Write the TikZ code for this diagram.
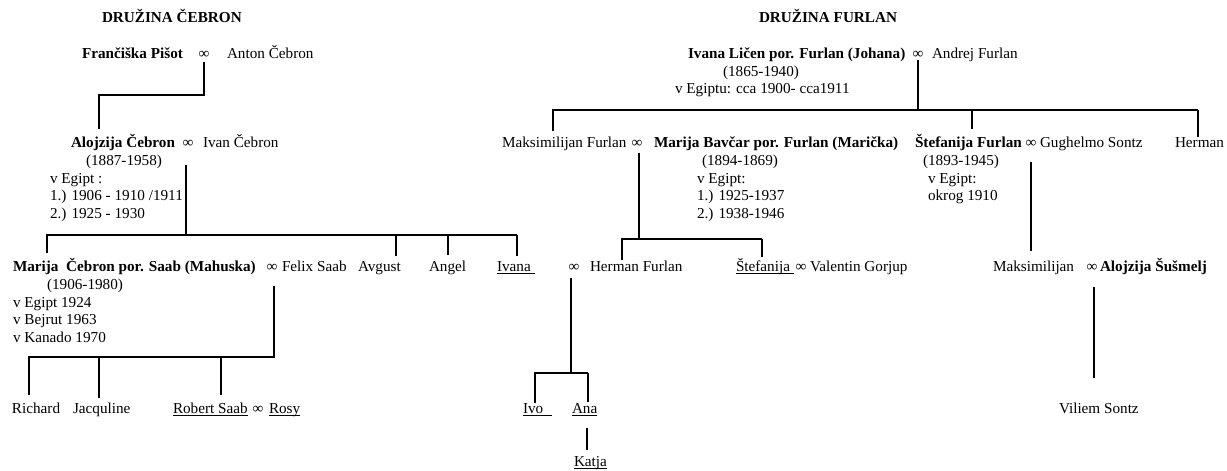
\documentclass[tikz,border=0pt]{standalone}
\usepackage{fontspec}
\setmainfont{Liberation Serif}
\usetikzlibrary{calc}
\newcommand{\ulx}[2][0pt]{\setbox0=\hbox{#2}\makebox[0pt][l]{\rule[-2.6pt]{\dimexpr\wd0+#1\relax}{0.9pt}}\box0}
\tikzset{
  txt/.style={anchor=base west, inner sep=0pt, outer sep=0pt, font=\fontsize{15.2}{17.5}\selectfont},
  txtb/.style={txt, font=\fontsize{15.2}{17.5}\selectfont\bfseries},
  infsym/.style={anchor=base, inner sep=0pt, outer sep=0pt, font=\fontsize{15.2}{17.5}\selectfont},
  conn/.style={line width=1.4pt},
}
\begin{document}
\begin{tikzpicture}[x=1pt,y=-1pt]
\useasboundingbox (0,0) rectangle (1227,471);

% ---------- headings ----------
\node[txtb] (h1) at (102,22) {DRUŽINA ČEBRON};
\node[txtb] (h2) at (759,22) {DRUŽINA FURLAN};

% ---------- generation 1 ----------
\node[txtb] (fp) at (82,58) {Frančiška Pišot};
\node[infsym] (i1) at (204,58) {∞};
\node[txt] (ac) at (227,58) {Anton Čebron};

\node[txtb] (il) at (688,58) {Ivana Ličen por. Furlan (Johana)};
\node[infsym] (i2) at (918,58) {∞};
\node[txt] (af) at (932,58) {Andrej Furlan};
\node[txt] (il2) at (723,76) {(1865-1940)};
\node[txt] (il3) at (675,93) {v Egiptu: cca 1900- cca1911};

% ---------- generation 2 ----------
\node[txtb] (al) at (71,147) {Alojzija Čebron};
\node[infsym] (i3) at (188,147) {∞};
\node[txt] (ic) at (203,147) {Ivan Čebron};
\node[txt] (al2) at (86,165) {(1887-1958)};
\node[txt] (al3) at (50,183) {v Egipt :};
\node[txt] (al4) at (50,200) {1.) 1906 - 1910 /1911};
\node[txt] (al5) at (50,218) {2.) 1925 - 1930};

\node[txt] (mf) at (502,147) {Maksimilijan Furlan};
\node[infsym] (i4) at (637,147) {∞};
\node[txtb] (mb) at (654,147) {Marija Bavčar por. Furlan (Marička)};
\node[txt] (mb2) at (702,165) {(1894-1869)};
\node[txt] (mb3) at (697,183) {v Egipt:};
\node[txt] (mb4) at (697,200) {1.) 1925-1937};
\node[txt] (mb5) at (697,218) {2.) 1938-1946};

\node[txtb] (sf) at (915,147) {Štefanija Furlan};
\node[infsym] (i5) at (1031,147) {∞};
\node[txt] (gs) at (1040,147) {Gughelmo Sontz};
\node[txt] (he) at (1175,147) {Herman};
\node[txt] (sf2) at (923,165) {(1893-1945)};
\node[txt] (sf3) at (928,183) {v Egipt:};
\node[txt] (sf4) at (928,200) {okrog 1910};

% ---------- generation 3 ----------
\node[txtb] (mc) at (13,271) {Marija\ \ Čebron por. Saab (Mahuska)};
\node[infsym] (i6) at (272,271) {∞};
\node[txt] (fs) at (282,271) {Felix Saab};
\node[txt] (av) at (358,271) {Avgust};
\node[txt] (an) at (429,271) {Angel};
\node[txt] (iv) at (497,271) {\ulx[4pt]{Ivana}};
\node[infsym] (i7) at (574,271) {∞};
\node[txt] (hf) at (590,271) {Herman Furlan};
\node[txt] (st) at (736,271) {\ulx[4pt]{Štefanija}};
\node[infsym] (i8) at (801,271) {∞};
\node[txt] (vg) at (810,271) {Valentin Gorjup};
\node[txt] (mx) at (993,271) {Maksimilijan};
\node[infsym] (i9) at (1092,271) {∞};
\node[txtb] (as) at (1100,271) {Alojzija Šušmelj};

\node[txt] (mc2) at (47,289) {(1906-1980)};
\node[txt] (mc3) at (13,307) {v Egipt 1924};
\node[txt] (mc4) at (13,324.5) {v Bejrut 1963};
\node[txt] (mc5) at (13,342) {v Kanado 1970};

% ---------- generation 4 ----------
\node[txt] (ri) at (12,413) {Richard};
\node[txt] (jq) at (73,413) {Jacquline};
\node[txt] (rs) at (173,413) {\ulx{Robert Saab}};
\node[infsym] (i10) at (258,413) {∞};
\node[txt] (ro) at (269,413) {\ulx{Rosy}};
\node[txt] (ivo) at (523,413) {\ulx[9pt]{Ivo}};
\node[txt] (ana) at (572,413) {\ulx{Ana}};
\node[txt] (vs) at (1059,413) {Viliem Sontz};
\node[txt] (ka) at (574,466) {\ulx{Katja}};

% ---------- connectors: Čebron ----------
\coordinate (k1t) at (204,62);
\coordinate (k1j) at (99,95);
\draw[conn, shorten >=4.5pt] (k1t) |- (k1j) -- (k1j |- al.north);

\coordinate (k2t) at (186,165);
\coordinate (k2L) at (47,235);
\coordinate (k2R) at (517,235);
\coordinate (k2a) at (396,235);
\coordinate (k2b) at (448,235);
\draw[conn] (k2t) -- (k2t |- k2L);
\draw[conn, shorten >=4.5pt] (k2R) -- (k2L) -- (k2L |- mc.north);
\draw[conn, shorten >=4.5pt] (k2a) -- (k2a |- av.north);
\draw[conn, shorten >=5.5pt] (k2b) -- (k2b |- an.north);
\draw[conn, shorten >=5.5pt] (k2R) -- (k2R |- iv.north);

\coordinate (k3t) at (274,286);
\coordinate (k3L) at (29,357);
\coordinate (k3a) at (99,357);
\coordinate (k3b) at (221,357);
\draw[conn, shorten >=7pt] (k3t) |- (k3L) -- (k3L |- ri.north);
\draw[conn, shorten >=4.5pt] (k3a) -- (k3a |- jq.north);
\draw[conn, shorten >=7pt] (k3b) -- (k3b |- rs.north);

% ---------- connectors: Furlan ----------
\coordinate (k5t) at (918,60);
\coordinate (k5L) at (553,110);
\coordinate (k5R) at (1198,110);
\coordinate (k5a) at (972,110);
\draw[conn] (k5t) -- (k5t |- k5L);
\draw[conn, shorten >=5.5pt] (k5R) -- (k5L) -- (k5L |- mf.north);
\draw[conn, shorten >=4.5pt] (k5a) -- (k5a |- sf.north);
\draw[conn, shorten >=0.5pt] (k5R) -- (k5R |- he.north);

\coordinate (k6t) at (639,153);
\coordinate (k6L) at (622,239);
\coordinate (k6R) at (762,239);
\draw[conn] (k6t) -- (k6t |- k6L);
\draw[conn, shorten >=0.5pt] (k6R) -- (k6L) -- (k6L |- hf.north);
\draw[conn, shorten >=0.5pt] (k6R) -- (k6R |- st.north);

\coordinate (k7t) at (1031,162);
\draw[conn, shorten >=9.5pt] (k7t) -- (k7t |- mx.north);

\coordinate (k8t) at (1094,287);
\draw[conn, shorten >=24.5pt] (k8t) -- (k8t |- vs.north);

\coordinate (k4t) at (571,278);
\coordinate (k4L) at (535,373);
\coordinate (k4R) at (588,373);
\draw[conn] (k4t) -- (k4t |- k4L);
\draw[conn, shorten >=0.5pt] (k4R) -- (k4L) -- (k4L |- ivo.north);
\draw[conn, shorten >=0.5pt] (k4R) -- (k4R |- ana.north);

\coordinate (k9t) at (587,428);
\draw[conn, shorten >=5.5pt] (k9t) -- (k9t |- ka.north);
\end{tikzpicture}
\end{document}
